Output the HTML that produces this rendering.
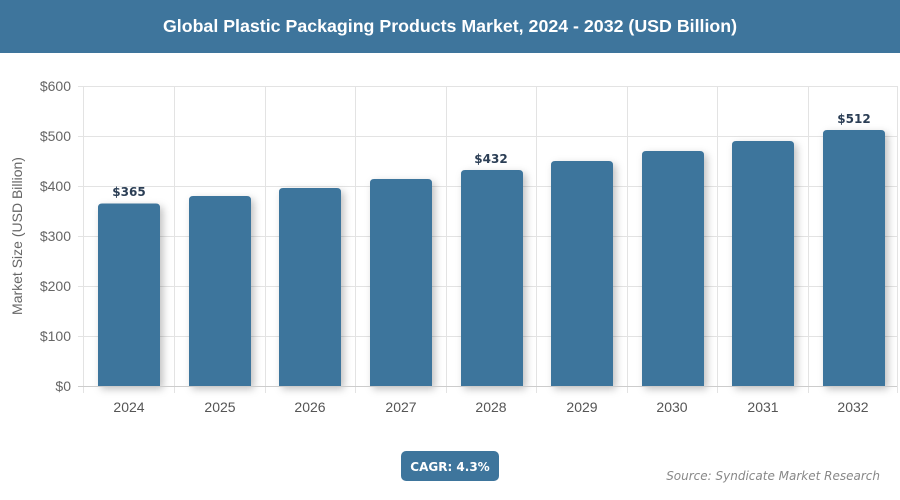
<!DOCTYPE html>
<html><head><meta charset="utf-8"><style>
body{margin:0;width:900px;height:500px;background:#fff;overflow:hidden;font-family:"Liberation Sans",sans-serif}
.hdr{position:absolute;left:0;top:0;width:900px;height:53px;background:#3e759c;color:#fff;font-weight:bold;font-size:17.8px;text-align:center;line-height:52px;font-family:"Liberation Sans",sans-serif}
</style></head><body>
<div class="hdr">Global Plastic Packaging Products Market, 2024 - 2032 (USD Billion)</div>
<svg width="900" height="500" style="position:absolute;left:0;top:0">
<defs><filter id="sh" x="-30%" y="-10%" width="160%" height="130%"><feDropShadow dx="3" dy="3" stdDeviation="4" flood-color="#000" flood-opacity="0.25"/></filter></defs>
<g stroke="#e3e3e3" stroke-width="1">
<line x1="78" y1="86.5" x2="897" y2="86.5"/><line x1="78" y1="136.5" x2="897" y2="136.5"/><line x1="78" y1="186.5" x2="897" y2="186.5"/><line x1="78" y1="236.5" x2="897" y2="236.5"/><line x1="78" y1="286.5" x2="897" y2="286.5"/><line x1="78" y1="336.5" x2="897" y2="336.5"/>
<line x1="83.5" y1="86" x2="83.5" y2="393"/><line x1="174.5" y1="86" x2="174.5" y2="393"/><line x1="265.5" y1="86" x2="265.5" y2="393"/><line x1="355.5" y1="86" x2="355.5" y2="393"/><line x1="446.5" y1="86" x2="446.5" y2="393"/><line x1="536.5" y1="86" x2="536.5" y2="393"/><line x1="627.5" y1="86" x2="627.5" y2="393"/><line x1="717.5" y1="86" x2="717.5" y2="393"/><line x1="808.5" y1="86" x2="808.5" y2="393"/><line x1="897.5" y1="86" x2="897.5" y2="393"/>
</g>
<g fill="#3e759c" filter="url(#sh)">
<path d="M98 386V207.5Q98 203.5 102 203.5H156Q160 203.5 160 207.5V386Z"/>
<path d="M189 386V200Q189 196 193 196H247Q251 196 251 200V386Z"/>
<path d="M279 386V192Q279 188 283 188H337Q341 188 341 192V386Z"/>
<path d="M370 386V183Q370 179 374 179H428Q432 179 432 183V386Z"/>
<path d="M461 386V174Q461 170 465 170H519Q523 170 523 174V386Z"/>
<path d="M551 386V165Q551 161 555 161H609Q613 161 613 165V386Z"/>
<path d="M642 386V155Q642 151 646 151H700Q704 151 704 155V386Z"/>
<path d="M732 386V145Q732 141 736 141H790Q794 141 794 145V386Z"/>
<path d="M823 386V134Q823 130 827 130H881Q885 130 885 134V386Z"/>
</g>
<line x1="78" y1="386.5" x2="897" y2="386.5" stroke="#ccc"/>
<g font-size="14" fill="#666" text-anchor="end">
<text x="71" y="91">$600</text><text x="71" y="141">$500</text><text x="71" y="191">$400</text><text x="71" y="241">$300</text><text x="71" y="291">$200</text><text x="71" y="341">$100</text><text x="71" y="391">$0</text>
</g>
<g font-size="14" fill="#555" text-anchor="middle">
<text x="129" y="412">2024</text><text x="220" y="412">2025</text><text x="310" y="412">2026</text><text x="401" y="412">2027</text><text x="491" y="412">2028</text><text x="582" y="412">2029</text><text x="672" y="412">2030</text><text x="763" y="412">2031</text><text x="853" y="412">2032</text>
</g>
<text transform="translate(22,236) rotate(-90)" font-size="14" fill="#666" text-anchor="middle">Market Size (USD Billion)</text>
<g font-size="12" font-weight="bold" fill="#2b3e55" text-anchor="middle" font-family="DejaVu Sans,sans-serif">
<text x="129" y="196">$365</text><text x="491" y="163">$432</text><text x="854" y="123">$512</text>
</g>
<rect x="401" y="451" width="98" height="30" rx="5" fill="#3e759c"/>
<text x="450" y="471" font-size="12" font-weight="bold" fill="#fff" text-anchor="middle" font-family="DejaVu Sans,sans-serif">CAGR: 4.3%</text>
<text x="880" y="480" font-size="12" font-style="italic" fill="#888" text-anchor="end" font-family="DejaVu Sans,sans-serif">Source: Syndicate Market Research</text>
</svg>
</body></html>
